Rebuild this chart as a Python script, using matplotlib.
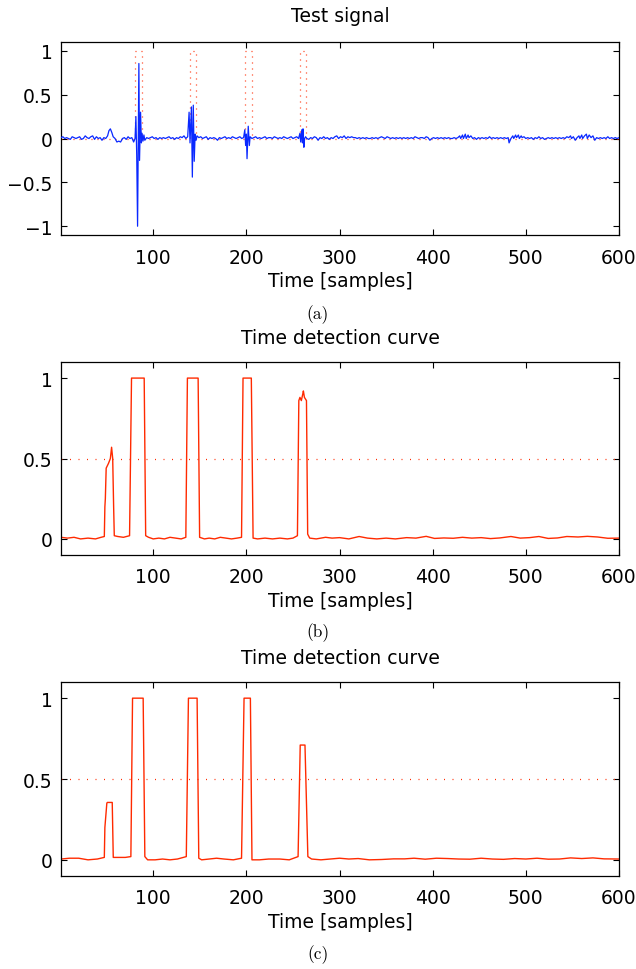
import numpy as np
import matplotlib
matplotlib.use("Agg")
import matplotlib.pyplot as plt

# ── Data ──
# test signal: (sample, amplitude)
test_signal = [
    (1, 0.01), (3, 0.02), (5, 0.0), (7, 0.01), (9, 0.0), (11, -0.01), (13, 0.02), (15, 0.01),
    (17, 0.0), (19, 0.01), (21, 0.02), (23, -0.01), (25, 0.0), (27, 0.03), (29, 0.01), (31, 0.0),
    (33, 0.02), (35, 0.03), (37, -0.01), (39, 0.02), (41, 0.0), (43, 0.01), (45, -0.02), (47, 0.01),
    (49, 0.0), (51, 0.03), (52.5, 0.09), (54, 0.11), (55.5, 0.07), (57, 0.02), (59, 0.0), (61, -0.04),
    (63, -0.03), (65, -0.04), (67, 0.0), (69, 0.01), (71, -0.01), (73, 0.02), (75, 0.0), (77, 0.01),
    (79, -0.04), (80.5, 0.0), (81.4, 0.25), (82.3, -0.2), (83.2, -1.0), (84.6, 0.855), (85.3, -0.25),
    (86.4, 0.30), (87.3, -0.05), (88, 0.06), (89, -0.03), (90, 0.04), (91, -0.02),
    (93, 0.01), (95, 0.0), (97, 0.01), (99, 0.02), (101, 0.0), (103, 0.01), (105, -0.01), (107, 0.01),
    (109, 0.0), (111, 0.01), (113, 0.0), (115, 0.01), (117, 0.02), (119, 0.0), (121, 0.01), (123, -0.01),
    (125, 0.01), (127, 0.0), (129, 0.02), (131, 0.01), (133, 0.03), (135, 0.0), (137, 0.02),
    (138.5, 0.30), (139.5, -0.05), (141, 0.36), (142, -0.44), (143, 0.38), (144, -0.26), (145, 0.05),
    (146, -0.02), (147, 0.03),
    (149, 0.01), (151, 0.02), (153, 0.0), (155, 0.01), (157, 0.02), (159, -0.01), (161, 0.01), (163, 0.0),
    (165, 0.01), (167, 0.0), (169, -0.02), (171, 0.01), (173, 0.0), (175, 0.01), (177, 0.02), (179, 0.0),
    (181, 0.01), (183, 0.0), (185, 0.02), (187, 0.01), (189, 0.0), (191, 0.01), (193, 0.02), (195, 0.0),
    (197, 0.01), (198.3, 0.10), (199.2, -0.08), (200, 0.05), (200.7, -0.23), (202, 0.14), (203.2, -0.08),
    (204, 0.02),
    (206, 0.0), (208, 0.01), (210, 0.02), (212, 0.0), (214, 0.01), (216, 0.0), (218, 0.01), (220, 0.02),
    (222, 0.0), (224, 0.01), (226, 0.01), (228, 0.0), (230, 0.02), (232, 0.01), (234, 0.0), (236, 0.01),
    (238, 0.0), (240, 0.02), (242, 0.01), (244, 0.0), (246, 0.01), (248, 0.02), (250, 0.0), (252, 0.01),
    (254, 0.02), (256, 0.0), (257.5, 0.06), (258.3, -0.04), (259.5, 0.10), (260.2, -0.05), (260.8, 0.11),
    (261.7, -0.10), (262.5, 0.0), (263.5, 0.02),
    (265, 0.0), (267, -0.01), (269, 0.01), (271, 0.0), (273, 0.02), (275, 0.01), (277, -0.02), (279, 0.01),
    (281, 0.0), (283, 0.02), (285, 0.0), (287, 0.01), (289, -0.01), (291, 0.01), (293, 0.0), (295, 0.02),
    (297, 0.03), (299, 0.0), (301, 0.02), (303, 0.01), (305, 0.03), (307, 0.0), (309, 0.02), (311, 0.01),
    (313, 0.02), (315, 0.01), (317, 0.01), (319, 0.0), (321, 0.01), (323, 0.0), (325, 0.01), (327, 0.0),
    (329, 0.01), (331, 0.0), (333, 0.0), (335, 0.01), (337, 0.0), (339, 0.01), (341, 0.0), (343, 0.01),
    (345, 0.02), (347, 0.01), (349, 0.0), (351, 0.02), (353, 0.01), (355, 0.0), (357, 0.01), (359, 0.0),
    (361, 0.01), (363, 0.0), (365, 0.01), (367, 0.0), (369, 0.01), (371, 0.0), (373, 0.01), (375, 0.0),
    (377, 0.01), (379, 0.0), (381, 0.02), (383, 0.01), (385, 0.0), (387, 0.01), (389, 0.01), (391, 0.0),
    (393, 0.02), (395, 0.01), (397, -0.02), (399, 0.0), (401, 0.01), (403, 0.0), (405, 0.01), (407, 0.0),
    (409, 0.01), (411, 0.0), (413, 0.01), (415, 0.0), (417, 0.01), (419, 0.0), (421, 0.0), (423, 0.01),
    (425, 0.0), (427, 0.01), (429, 0.03), (430, 0.0), (432, 0.04), (433, 0.0), (435, 0.05), (436, 0.0),
    (438, 0.04), (439, 0.01), (441, 0.03), (443, 0.0), (445, 0.01), (447, -0.01), (449, 0.01), (451, 0.0),
    (453, 0.01), (455, 0.0), (457, 0.01), (459, 0.0), (461, 0.02), (463, 0.0), (465, 0.01), (467, 0.0),
    (469, 0.01), (471, 0.0), (473, 0.01), (475, 0.0), (477, 0.01), (479, 0.0), (481, 0.01), (482, -0.05),
    (484, 0.0), (486, 0.03), (487, 0.0), (489, 0.04), (490, 0.01), (492, 0.04), (493, 0.0), (495, 0.03),
    (496, 0.01), (498, 0.02), (500, 0.0), (502, 0.01), (504, 0.0), (506, 0.01), (508, -0.01), (510, 0.01),
    (512, 0.0), (514, 0.02), (516, 0.0), (518, 0.01), (520, -0.01), (522, 0.0), (524, 0.01), (526, 0.0),
    (528, 0.01), (530, 0.0), (532, 0.01), (534, 0.0), (536, 0.01), (538, 0.0), (540, 0.01), (542, 0.0),
    (544, 0.02), (546, 0.01), (548, 0.03), (549, 0.0), (551, 0.02), (553, -0.02), (555, 0.01), (557, 0.03),
    (558, 0.0), (560, 0.04), (561, 0.0), (563, 0.03), (565, 0.05), (566, 0.0), (568, 0.04), (570, 0.01),
    (572, 0.03), (574, -0.02), (576, 0.01), (578, 0.0), (580, 0.01), (582, 0.0), (584, 0.01), (586, 0.0),
    (588, 0.02), (590, 0.0), (592, 0.01), (594, 0.0), (596, 0.01), (598, 0.0), (600, 0.01),
]

# ground-truth event windows (sample start, sample end), shown as red dotted indicator
event_starts = [80.3, 139.2, 198.6, 257.6]
event_ends = [88.2, 146.4, 206.4, 263.6]

# detection curve (b)
curve_b = [
    (1, 0.01), (8, 0.005), (15, 0.01), (22, 0.0), (30, 0.005), (38, 0.0), (44, 0.01), (47.5, 0.015),
    (48.1, 0.2), (48.6, 0.25), (49.5, 0.44), (52, 0.47), (54, 0.5), (55.3, 0.57), (56.5, 0.5), (57.5, 0.2),
    (58.2, 0.02), (62, 0.015), (68, 0.01), (74.6, 0.02), (76.7, 1.0), (90.3, 1.0), (91.9, 0.02),
    (95, 0.01), (100, 0.0), (106, 0.005), (112, 0.0), (118, 0.01), (124, 0.005), (130, 0.0),
    (135, 0.01), (136.7, 1.0), (148.2, 1.0), (149.8, 0.01), (155, 0.0), (160, 0.005), (166, 0.0),
    (172, 0.01), (178, 0.005), (184, 0.0), (190, 0.005), (194.8, 0.01), (196.4, 1.0), (205.3, 1.0),
    (207.2, 0.005), (212, 0.0), (220, 0.005), (228, 0.0), (236, 0.005), (244, 0.0), (250, 0.005),
    (254.8, 0.02), (256.3, 0.86), (257.5, 0.88), (259, 0.86), (260.5, 0.9), (261.2, 0.92),
    (262.3, 0.88), (264.5, 0.86), (265.8, 0.03), (268, 0.005), (275, 0.0), (285, 0.01), (292, 0.005),
    (300, 0.008), (310, 0.0), (321, 0.015), (330, 0.005), (340, 0.0), (350, 0.005), (360, 0.0),
    (372, 0.008), (382, 0.005), (393, 0.016), (402, 0.003), (412, 0.006), (422, 0.004), (432, 0.01),
    (442, 0.005), (452, 0.008), (462, 0.002), (472, 0.006), (484, 0.015), (494, 0.005), (504, 0.008),
    (514, 0.015), (524, 0.003), (534, 0.006), (544, 0.015), (556, 0.012), (566, 0.016), (577, 0.012),
    (588, 0.004), (600, 0.005),
]

# detection curve (c)
curve_c = [
    (1, 0.005), (10, 0.01), (20, 0.01), (30, 0.0), (40, 0.005), (47.5, 0.015), (48.1, 0.2),
    (50.2, 0.35), (50.7, 0.355), (56, 0.355), (57.1, 0.015), (62, 0.015), (70, 0.015), (76, 0.02),
    (77.8, 1.0), (89.2, 1.0), (91, 0.02), (94, 0.0), (102, 0.0), (110, 0.005), (118, 0.0),
    (126, 0.005), (135.5, 0.02), (137.8, 1.0), (147.1, 1.0), (148.9, 0.01), (152, 0.0), (160, 0.005),
    (168, 0.01), (176, 0.005), (186, 0.0), (194.8, 0.01), (197.5, 1.0), (204.3, 1.0), (206, 0.0),
    (214, 0.0), (224, 0.005), (236, 0.005), (246, 0.0), (255.5, 0.02), (257.8, 0.71), (262.9, 0.71),
    (266, 0.02), (270, 0.005), (280, 0.0), (290, 0.005), (300, 0.01), (310, 0.005), (320, 0.008),
    (332, 0.0), (345, 0.002), (358, 0.006), (370, 0.006), (380, 0.01), (392, 0.004), (404, 0.01),
    (416, 0.008), (428, 0.005), (440, 0.004), (452, 0.01), (464, 0.005), (476, 0.003), (488, 0.008),
    (500, 0.005), (512, 0.01), (524, 0.004), (536, 0.005), (548, 0.012), (560, 0.008), (572, 0.012),
    (584, 0.006), (600, 0.005),
]

threshold = 0.5

# ── Styling ──
plt.rcParams['font.family'] = ['DejaVu Sans']
BLUE = '#0a28ff'
RED = '#ff2a00'
FS = 13.5

fig = plt.figure(figsize=(6.36, 9.70), dpi=100, facecolor='white')
W, H = 636.0, 970.0


def make_axes(top_px, bot_px):
    ax = fig.add_axes([61 / W, 1 - bot_px / H, 558 / W, (bot_px - top_px) / H])
    ax.set_xlim(1, 600)
    ax.set_xticks([100, 200, 300, 400, 500, 600])
    ax.tick_params(direction='in', top=True, right=True, length=4.5, width=0.8,
                   labelsize=FS)
    ax.tick_params(axis='x', pad=9)
    ax.tick_params(axis='y', pad=6)
    for s in ax.spines.values():
        s.set_linewidth(0.9)
    ax.set_xlabel('Time [samples]', fontsize=FS, labelpad=3)
    return ax


# ── (a) test signal ──
ax1 = make_axes(43, 236)
ind_x, ind_y = [1], [0]
for s, e in zip(event_starts, event_ends):
    ind_x += [s, s, e, e]
    ind_y += [0, 1, 1, 0]
ind_x.append(600)
ind_y.append(0)
ax1.plot(ind_x, ind_y, color=RED, linewidth=0.9, dashes=(0.8, 4.0), zorder=2)
ax1.plot([p[0] for p in test_signal], [p[1] for p in test_signal], color=BLUE, linewidth=0.9, zorder=3)
ax1.set_ylim(-1.1, 1.1)
ax1.set_yticks([-1, -0.5, 0, 0.5, 1])
ax1.set_yticklabels(['\u22121', '\u22120.5', '0', '0.5', '1'])

# ── (b) and (c) detection curves ──
ax2 = make_axes(363, 556)
ax3 = make_axes(683, 877)
for ax, curve in [(ax2, curve_b), (ax3, curve_c)]:
    ax.plot([1, 600], [threshold, threshold], color=RED, linewidth=0.9, dashes=(0.8, 6.0))
    ax.plot([p[0] for p in curve], [p[1] for p in curve], color=RED, linewidth=1.0)
    ax.set_ylim(-0.1, 1.1)
    ax.set_yticks([0, 0.5, 1])
    ax.set_yticklabels(['0', '0.5', '1'])

# titles and sub-figure labels
for y_px, txt in [(17, 'Test signal'), (339, 'Time detection curve'), (659, 'Time detection curve')]:
    fig.text(340 / W, 1 - y_px / H, txt, ha='center', va='center', fontsize=FS)
for y_px, txt in [(315, '(a)'), (633, '(b)'), (955, '(c)')]:
    fig.text(318 / W, 1 - y_px / H, txt, ha='center', va='center', fontsize=12.5,
             family=['cmr10', 'DejaVu Serif'])

fig.savefig('out.png', dpi=100, facecolor='white')
